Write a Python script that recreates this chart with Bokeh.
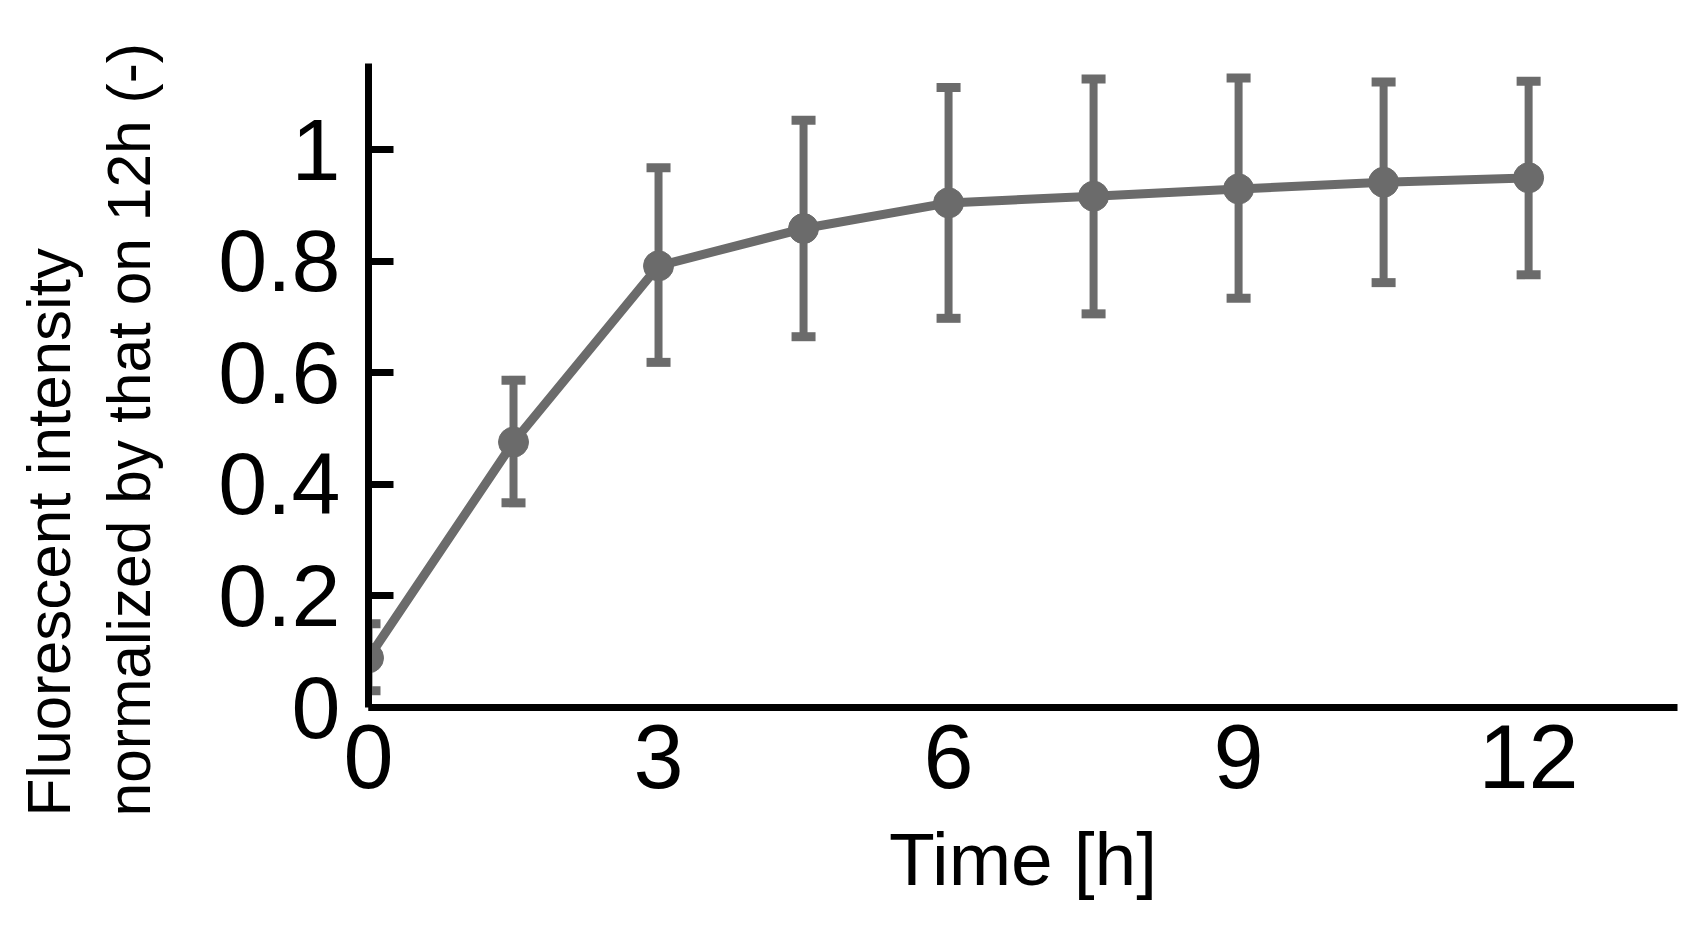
from bokeh.plotting import figure
from bokeh.layouts import row
from bokeh.models import Range1d, FixedTicker, Whisker, TeeHead, ColumnDataSource, Title
from bokeh.embed import file_html
from bokeh.resources import INLINE

# ---- data ----
time_h = [0, 1.5, 3, 4.5, 6, 7.5, 9, 10.5, 12]
intensity = [0.089, 0.476, 0.792, 0.859, 0.905, 0.917, 0.930, 0.942, 0.950]
err_upper = [0.150, 0.587, 0.968, 1.053, 1.112, 1.127, 1.129, 1.122, 1.123]
err_lower = [0.030, 0.367, 0.619, 0.665, 0.698, 0.706, 0.734, 0.762, 0.776]

x_ticks = [0, 3, 6, 9, 12]
y_ticks = [0, 0.2, 0.4, 0.6, 0.8, 1]
y_tick_labels = ["0", "0.2", "0.4", "0.6", "0.8", "1"]

x_label = "Time [h]"
y_label_lines = ["Fluorescent intensity", "normalized by that on 12h (-)"]

X_MAX, Y_MAX = 13.54, 1.155

# ---- styling ----
GRAY = "#6b6b6b"
FONT = "Liberation Sans"
TOTAL_W, H = 1678, 909
LW = 190                                  # width of the strip holding the y title
W = TOTAL_W - LW
ML, MR, MT, MB = 368 - LW, 1, 63, 202

# ---- left strip: y-axis title, two lines starting at the same point ----
t = figure(width=LW, height=H, output_backend="svg", toolbar_location=None,
           x_range=Range1d(0, 1), y_range=Range1d(0, 1),
           x_axis_location=None, y_axis_location=None, min_border=0)
t.outline_line_color = None
t.xgrid.visible = False
t.ygrid.visible = False
t.border_fill_color = "white"
t.background_fill_color = None

# inner line first (closest to the plot), then outer line
t.add_layout(Title(text=y_label_lines[1], align="left", vertical_align="top",
                   standoff=2, offset=-109, text_font=FONT, text_font_size="60.5px",
                   text_font_style="normal", text_color="black"), "left")
t.add_layout(Title(text=y_label_lines[0], align="left", vertical_align="bottom",
                   standoff=22, offset=-109, text_font=FONT, text_font_size="62px",
                   text_font_style="normal", text_color="black"), "left")

# ---- main chart ----
src = ColumnDataSource(dict(x=time_h, y=intensity, lo=err_lower, hi=err_upper))

p = figure(width=W, height=H, output_backend="svg", toolbar_location=None,
           x_range=Range1d(0, X_MAX), y_range=Range1d(0, Y_MAX),
           min_border_left=ML, min_border_right=MR, min_border_top=MT, min_border_bottom=MB)
p.outline_line_color = None
p.xgrid.visible = False
p.ygrid.visible = False
p.background_fill_color = "white"
p.border_fill_color = "white"

wh = Whisker(source=src, base="x", upper="hi", lower="lo",
             line_color=GRAY, line_width=8,
             upper_head=TeeHead(size=24, line_color=GRAY, line_width=9),
             lower_head=TeeHead(size=24, line_color=GRAY, line_width=9))
p.add_layout(wh)

p.line("x", "y", source=src, line_color=GRAY, line_width=9)
p.scatter("x", "y", source=src, size=30, fill_color=GRAY, line_color=GRAY)

for ax in (p.xaxis[0], p.yaxis[0]):
    ax.axis_line_color = "black"
    ax.axis_line_width = 7
    ax.major_tick_line_color = "black"
    ax.major_tick_line_width = 7
    ax.minor_tick_line_color = None
    ax.major_label_text_font = FONT
    ax.major_label_text_color = "black"
    ax.axis_label_text_font = FONT
    ax.axis_label_text_font_style = "normal"
    ax.axis_label_text_color = "black"

p.yaxis.ticker = FixedTicker(ticks=y_ticks)
p.yaxis.major_label_overrides = {v: s for v, s in zip(y_ticks, y_tick_labels)}
p.yaxis.major_tick_in = 25
p.yaxis.major_tick_out = 0
p.yaxis.major_label_text_font_size = "88px"
p.yaxis.major_label_standoff = 28

p.xaxis.ticker = FixedTicker(ticks=x_ticks)
p.xaxis.major_tick_in = 0
p.xaxis.major_tick_out = 0
p.xaxis.major_label_text_font_size = "90px"
p.xaxis.major_label_standoff = 17
p.xaxis.axis_label = x_label
p.xaxis.axis_label_text_font_size = "75px"
p.xaxis.axis_label_standoff = 26

layout = row(t, p)
open("out.html", "w").write(file_html(layout, INLINE))
